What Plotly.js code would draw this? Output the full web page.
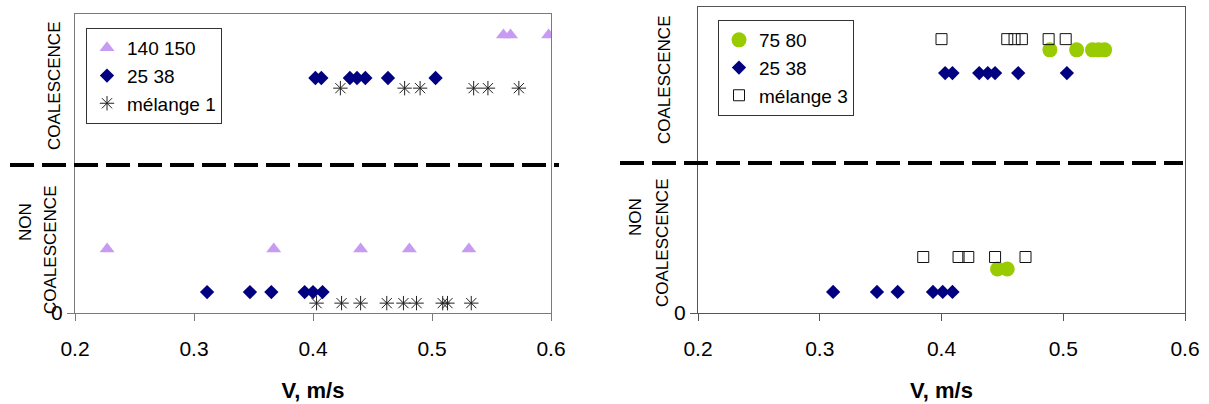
<!DOCTYPE html>
<html>
<head>
<meta charset="utf-8">
<script src="https://cdn.plot.ly/plotly-3.0.1.min.js"></script>
<style>html,body{margin:0;padding:0;background:#fff}#chart{width:1209px;height:404px}</style>
</head>
<body>
<div id="chart"></div>
<script>
// ---- Left chart data ----
const leftNames = ["140 150", "25 38", "mélange 1"];
const tri140_x = [0.560, 0.566, 0.598, 0.227, 0.367, 0.440, 0.481, 0.531];
const tri140_y = [0.93, 0.93, 0.93, 0.214, 0.214, 0.214, 0.214, 0.214];
const dia2538L_x = [0.402, 0.407, 0.431, 0.437, 0.444, 0.463, 0.503, 0.311, 0.347, 0.365, 0.393, 0.400, 0.408];
const dia2538L_y = [0.786, 0.786, 0.786, 0.786, 0.786, 0.786, 0.786, 0.07, 0.07, 0.07, 0.07, 0.07, 0.07];
const mel1_x = [0.423, 0.477, 0.490, 0.535, 0.547, 0.573, 0.403, 0.424, 0.440, 0.462, 0.476, 0.487, 0.509, 0.513, 0.533];
const mel1_y = [0.752, 0.752, 0.752, 0.752, 0.752, 0.752, 0.033, 0.033, 0.033, 0.033, 0.033, 0.033, 0.033, 0.033, 0.033];

// ---- Right chart data ----
const rightNames = ["75 80", "25 38", "mélange 3"];
const c7580_x = [0.489, 0.511, 0.524, 0.529, 0.534, 0.446, 0.454];
const c7580_y = [0.86, 0.86, 0.86, 0.86, 0.86, 0.144, 0.144];
const dia2538R_x = [0.403, 0.409, 0.431, 0.438, 0.444, 0.463, 0.503, 0.311, 0.347, 0.364, 0.393, 0.401, 0.409];
const dia2538R_y = [0.784, 0.784, 0.784, 0.784, 0.784, 0.784, 0.784, 0.069, 0.069, 0.069, 0.069, 0.069, 0.069];
const mel3_x = [0.400, 0.454, 0.460, 0.466, 0.488, 0.502, 0.385, 0.414, 0.422, 0.444, 0.469];
const mel3_y = [0.895, 0.895, 0.895, 0.895, 0.895, 0.895, 0.183, 0.183, 0.183, 0.183, 0.183];

// regime boundary (dashed line) and tick labels
const boundaryLeft = 0.495;
const boundaryRight = 0.49;
const xTicks = [0.2, 0.3, 0.4, 0.5, 0.6];
const xTickText = ["0.2", "0.3", "0.4", "0.5", "0.6"];
const yTicks = [0];
const yTickText = ["0"];
const xTitle = "V, m/s";
const labelCoal = "COALESCENCE";
const labelNon = "NON";

const W = 1209, H = 404;
const px = v => v / W;
const py = v => (H - v) / H;
const FONT = "Liberation Sans, Arial, sans-serif";

const traces = [
  {x: tri140_x, y: tri140_y, name: leftNames[0], type: "scatter", mode: "markers", xaxis: "x", yaxis: "y", legend: "legend",
   marker: {symbol: "triangle-up", size: 13, color: "#C89BF2"}},
  {x: dia2538L_x, y: dia2538L_y, name: leftNames[1], type: "scatter", mode: "markers", xaxis: "x", yaxis: "y", legend: "legend",
   marker: {symbol: "diamond", size: 11, color: "#000080"}},
  {x: mel1_x, y: mel1_y, name: leftNames[2], type: "scatter", mode: "markers", xaxis: "x", yaxis: "y", legend: "legend",
   marker: {symbol: "asterisk-open", size: 12, color: "#222", line: {color: "#222", width: 1}}},
  {x: c7580_x, y: c7580_y, name: rightNames[0], type: "scatter", mode: "markers", xaxis: "x2", yaxis: "y2", legend: "legend2",
   marker: {symbol: "circle", size: 15, color: "#99CC00"}},
  {x: dia2538R_x, y: dia2538R_y, name: rightNames[1], type: "scatter", mode: "markers", xaxis: "x2", yaxis: "y2", legend: "legend2",
   marker: {symbol: "diamond", size: 11, color: "#000080"}},
  {x: mel3_x, y: mel3_y, name: rightNames[2], type: "scatter", mode: "markers", xaxis: "x2", yaxis: "y2", legend: "legend2",
   marker: {symbol: "square-open", size: 11, color: "#111", line: {color: "#111", width: 1}}}
];

function xax(domain, anchor, lc) {
  return {domain: domain, anchor: anchor, range: [0.2, 0.6], tickvals: xTicks, ticktext: xTickText,
    showline: true, linecolor: lc, linewidth: 1, mirror: true, ticks: "outside", ticklen: 7, tickcolor: lc,
    showgrid: false, zeroline: false, ticklabelstandoff: 10,
    tickfont: {family: FONT, size: 21, color: "#000"},
    title: {text: xTitle, font: {family: FONT, size: 22, color: "#000", weight: "bold"}, standoff: 23}};
}
function yax(domain, anchor, lc) {
  return {domain: domain, anchor: anchor, range: [0, 1], tickvals: yTicks, ticktext: yTickText,
    showline: true, linecolor: lc, linewidth: 1, mirror: true, ticks: "outside", ticklen: 7, tickcolor: lc,
    showgrid: false, zeroline: false,
    tickfont: {family: FONT, size: 21, color: "#000"}};
}

const annFont = {family: FONT, size: 17, color: "#000"};
function vlabel(text, x, y) {
  return {text: text, xref: "paper", yref: "paper", x: px(x), y: py(y), xanchor: "center", yanchor: "middle",
    textangle: -90, showarrow: false, font: annFont};
}

const layout = {
  width: W, height: H,
  margin: {l: 0, r: 0, t: 0, b: 0},
  paper_bgcolor: "#fff", plot_bgcolor: "#fff",
  font: {family: FONT, color: "#000"},
  xaxis: xax([px(75), px(551)], "y", "#7a7a7a"),
  yaxis: yax([py(313), py(14)], "x", "#7a7a7a"),
  xaxis2: xax([px(698), px(1185)], "y2", "#555"),
  yaxis2: yax([py(313), py(7)], "x2", "#555"),
  legend: {x: px(86), y: py(28), xanchor: "left", yanchor: "top", bgcolor: "#fff", bordercolor: "#333", borderwidth: 1,
    font: {family: FONT, size: 19, color: "#000"}, itemwidth: 30, tracegroupgap: 0, traceorder: "normal"},
  legend2: {x: px(718), y: py(20), xanchor: "left", yanchor: "top", bgcolor: "#fff", bordercolor: "#333", borderwidth: 1,
    font: {family: FONT, size: 19, color: "#000"}, itemwidth: 30, tracegroupgap: 0, traceorder: "normal"},
  shapes: [
    {type: "line", xref: "paper", yref: "y", x0: px(10), x1: px(559), y0: boundaryLeft, y1: boundaryLeft,
     line: {color: "#000", width: 4, dash: "24px,8px"}},
    {type: "line", xref: "paper", yref: "y2", x0: px(620), x1: px(1183), y0: boundaryRight, y1: boundaryRight,
     line: {color: "#000", width: 4, dash: "24px,8px"}}
  ],
  annotations: [
    vlabel(labelCoal, 55, 86),
    vlabel(labelNon, 25, 222),
    vlabel(labelCoal, 50, 250),
    vlabel(labelCoal, 665, 80),
    vlabel(labelNon, 635, 217),
    vlabel(labelCoal, 662, 243)
  ]
};

Plotly.newPlot("chart", traces, layout, {displayModeBar: false, staticPlot: true});
</script>
</body>
</html>
